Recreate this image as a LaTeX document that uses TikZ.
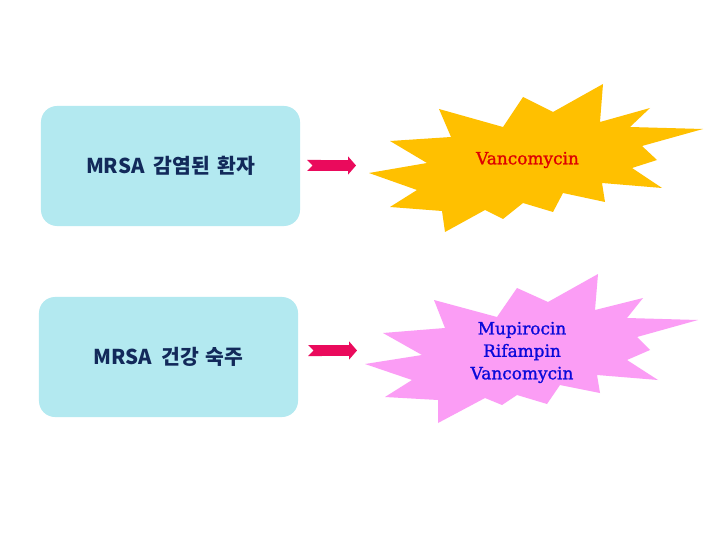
\documentclass[tikz,border=0pt]{standalone}
\usepackage{fontspec}
\usepackage{tikz}
\usetikzlibrary{arrows.meta, positioning}
\newfontfamily\kofont{Noto Sans CJK KR}
\newfontfamily\drugfont[FakeBold=1.2]{DejaVu Serif}
\definecolor{boxcyan}{HTML}{B3E9F0}
\definecolor{navytext}{HTML}{12295A}
\definecolor{arrowred}{HTML}{EA0A5C}
\definecolor{burstyellow}{HTML}{FFC000}
\definecolor{burstpink}{HTML}{FB9DF5}
\definecolor{drugred}{HTML}{DD0000}
\definecolor{drugblue}{HTML}{0A0ADA}

\begin{document}
\begin{tikzpicture}[
  x=1bp, y=-1bp,
  casebox/.style={rounded corners=16bp, fill=boxcyan, minimum width=259bp,
                  minimum height=120bp, inner sep=0pt,
                  font=\kofont\bfseries\fontsize{20.5}{23}\selectfont, text=navytext},
  druglabel/.style={font=\drugfont\fontsize{17}{22.5}\selectfont, align=center, inner sep=0pt},
  fatarrow/.style={draw=arrowred, line width=11bp,
                   {Triangle Cap[reversed]}-{Triangle[length=8bp, width=18bp]}}
]
  %------------------------------------------------------------
  %  PAGE
  %------------------------------------------------------------
  \fill[white] (0,0) rectangle (720,540);
  \useasboundingbox (0,0) rectangle (720,540);

  %------------------------------------------------------------
  %  LEFT BOXES
  %------------------------------------------------------------
  \node[casebox] (infected) at (170.5,166) {MRSA\hspace{0.45em}감염된\hspace{0.35em}환자};
  \node[casebox] (carrier)  at (168.5,357) {MRSA\hspace{0.45em}건강\hspace{0.35em}숙주};

  %------------------------------------------------------------
  %  BURSTS
  %------------------------------------------------------------
  \fill[burstyellow] (369,173) -- (427,163) -- (390,141) -- (451,137)
    -- (439,109) -- (503,127) -- (523,97) -- (553,112) -- (603,84)
    -- (600,122) -- (650,108) -- (630,127) -- (703,129) -- (642,146)
    -- (657,160) -- (632,168) -- (662,188) -- (602,183) -- (605,202)
    -- (563,193) -- (553,212) -- (523,203) -- (503,219) -- (485,210)
    -- (445,232) -- (442,211) -- (390,207) -- (417,190) -- cycle;
  \fill[burstpink] (365,364) -- (422,355) -- (383,333) -- (445,328)
    -- (434,300) -- (497,317) -- (517,288) -- (548,302) -- (598,274)
    -- (595,310) -- (643,298) -- (627,318) -- (698,320) -- (637,337)
    -- (650,350) -- (627,360) -- (658,380) -- (597,375) -- (600,393)
    -- (560,385) -- (547,404) -- (517,395) -- (502,405) -- (485,398)
    -- (438,423) -- (438,400) -- (385,397) -- (412,380) -- cycle;

  \node[druglabel, text=drugred]  (drugA) at (527.5,160) {Vancomycin};
  \node[druglabel, text=drugblue] (drugB) at (522,352.5)
    {Mupirocin\\Rifampin\\Vancomycin};

  %------------------------------------------------------------
  %  ARROWS
  %------------------------------------------------------------
  \coordinate (tailA) at (307,165.5);
  \coordinate (headA) at (356,165.5);
  \coordinate (tailB) at (308,350.5);
  \coordinate (headB) at (357,350.5);
  \draw[fatarrow] (tailA) -- (headA);
  \draw[fatarrow] (tailB) -- (headB);

\end{tikzpicture}
\end{document}
